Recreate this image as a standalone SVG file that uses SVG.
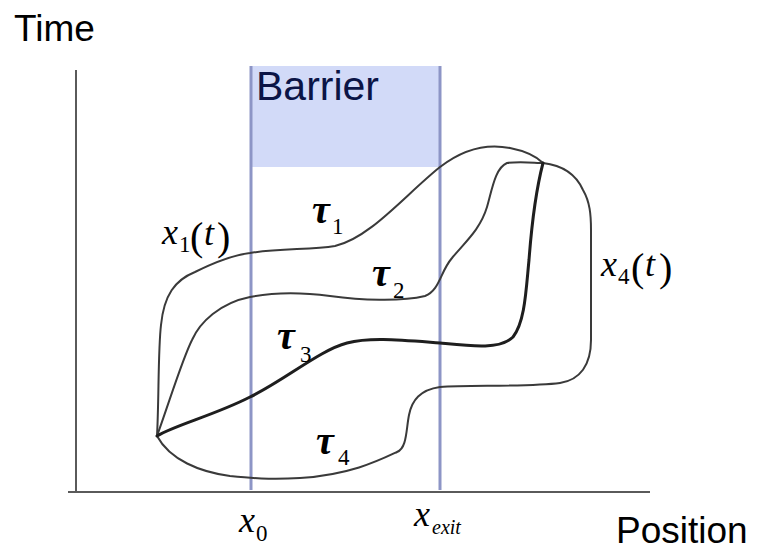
<svg xmlns="http://www.w3.org/2000/svg" width="763" height="552" viewBox="0 0 763 552">
<style>
.lbl{font-family:"Liberation Sans",Arial,sans-serif;font-size:37px;fill:#000}
.bar{font-family:"Liberation Sans",Arial,sans-serif;font-size:41px;fill:#0b1446}
.m{font-family:"Liberation Serif","Times New Roman",serif;fill:#000;font-size:36px}
.mi{font-style:italic}
.tau{font-style:italic;font-weight:bold;font-size:40px}
.sub{font-size:23px;font-style:normal;font-weight:normal}
.par{font-size:40px;font-style:normal}
.axis{stroke:#5a5a5a;stroke-width:2;fill:none}
.bline{stroke:#8d95c6;stroke-width:3;fill:none}
.traj{stroke:#3a3a3a;stroke-width:2;fill:none;stroke-linecap:round;stroke-linejoin:round}
.thick{stroke:#1e1e1e;stroke-width:3}
</style>
<rect width="763" height="552" fill="#fff"/>
<g id="barrier">
  <rect x="251" y="66" width="189" height="101" fill="#d2daf8"/>
  <line class="bline" x1="251" y1="66" x2="251" y2="490"/>
  <line class="bline" x1="440" y1="66" x2="440" y2="490"/>
  <text class="bar" x="256" y="100">Barrier</text>
</g>
<g id="axes">
  <line class="axis" x1="76" y1="70" x2="76" y2="492"/>
  <line class="axis" x1="68" y1="492" x2="650" y2="492"/>
  <text class="lbl" x="14" y="41">Time</text>
  <text class="lbl" x="616" y="543">Position</text>
</g>
<g id="connectors">
  <path id="traj1" class="traj" d="M157,436 C159,400 158,350 161,325 C164,295 175,280 195,272 C215,262 235,255 250,253 C280,248 310,250 335,246 C370,238 405,195 440,167 C462,150 485,143 510,148 C525,151 537,157 543,163"/>
  <path id="traj4" class="traj" d="M543,163 C560,165 575,172 583,190 C590,202 591,215 591,230 L591,340 C591,365 580,380 560,383 C530,387 470,385 440,387 C420,390 412,400 409,415 C406,430 407,448 397,452 C380,460 350,475 300,478 C270,480 250,478 230,476 C200,472 170,460 157,436"/>
  <path id="traj2" class="traj" d="M157,436 C170,400 182,360 192,340 C200,322 220,303 250,297 C275,292 300,292 330,296 C360,300 400,302 425,296 C440,290 440,272 452,258 C465,242 480,230 487,207 C492,190 495,168 507,163 C520,161 535,163 543,163"/>
  <path id="traj3" class="traj thick" d="M157,436 C175,425 215,415 250,397 C285,380 320,350 347,343 C370,337 400,340 440,343 C470,346 500,350 513,337 C525,322 526,290 529,260 C532,220 536,190 543,163"/>
</g>
<g id="label-x1">
  <text class="m"><tspan class="mi" x="162" y="244">x</tspan><tspan class="sub" x="179" y="252">1</tspan><tspan class="par" x="190" y="250">(</tspan><tspan class="mi" x="204" y="245">t</tspan><tspan class="par" x="217" y="250">)</tspan></text>
</g>
<g id="label-x4">
  <text class="m"><tspan class="mi" x="601" y="276">x</tspan><tspan class="sub" x="618" y="284">4</tspan><tspan class="par" x="631" y="281">(</tspan><tspan class="mi" x="645" y="276">t</tspan><tspan class="par" x="659" y="281">)</tspan></text>
</g>
<g id="label-tau1"><text class="m"><tspan class="tau" x="312" y="223">τ</tspan><tspan class="sub" x="332" y="234">1</tspan></text></g>
<g id="label-tau2"><text class="m"><tspan class="tau" x="372" y="286">τ</tspan><tspan class="sub" x="393" y="298">2</tspan></text></g>
<g id="label-tau3"><text class="m"><tspan class="tau" x="277" y="349">τ</tspan><tspan class="sub" x="300" y="362">3</tspan></text></g>
<g id="label-tau4"><text class="m"><tspan class="tau" x="316" y="454">τ</tspan><tspan class="sub" x="338" y="465">4</tspan></text></g>
<g id="label-x0"><text class="m"><tspan class="mi" x="239" y="532">x</tspan><tspan class="sub" x="256" y="541">0</tspan></text></g>
<g id="label-xexit"><text class="m"><tspan class="mi" x="414" y="526">x</tspan><tspan class="mi" x="432" y="534" font-size="20">exit</tspan></text></g>
</svg>
